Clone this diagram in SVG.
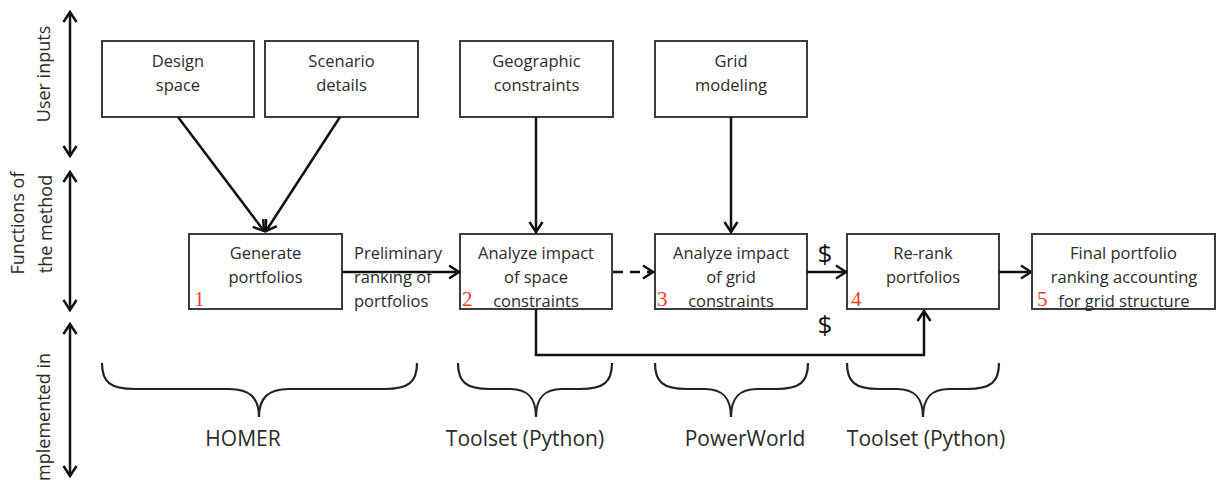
<svg xmlns="http://www.w3.org/2000/svg" width="1218" height="480" viewBox="0 0 1218 480">
<style>
.box{fill:#fff;stroke:#3c3c3c;stroke-width:2}
.t{font-family:"Open Sans",sans-serif;font-size:16.5px;font-weight:500;fill:#2b2b2b;text-anchor:middle}
.tl{font-family:"Open Sans",sans-serif;font-size:16.5px;font-weight:500;fill:#2b2b2b}
.ax{font-family:"Open Sans",sans-serif;font-size:18px;font-weight:500;fill:#2b2b2b;text-anchor:middle}
.big{font-family:"Open Sans",sans-serif;font-size:21px;font-weight:500;fill:#2b2b2b;text-anchor:middle}
.num{font-family:"Liberation Serif",serif;font-size:21px;fill:#f0401e}
.dol{font-family:"Open Sans",sans-serif;font-size:26px;fill:#111;text-anchor:middle}
.c{fill:none;stroke:#111;stroke-width:2.5}
.br{fill:none;stroke:#222;stroke-width:2.2}
</style>
<defs>
<marker id="ah" markerUnits="userSpaceOnUse" markerWidth="14" markerHeight="16" refX="12" refY="8" orient="auto-start-reverse">
<path d="M2,1.5 L12,8 L2,14.5" fill="none" stroke="#111" stroke-width="2.5"/>
</marker>
</defs>

<g id="axis">
<line class="c" x1="70" y1="12" x2="70" y2="156" marker-start="url(#ah)" marker-end="url(#ah)"/>
<line class="c" x1="70" y1="172" x2="70" y2="310" marker-start="url(#ah)" marker-end="url(#ah)"/>
<line class="c" x1="70" y1="324" x2="70" y2="476" marker-start="url(#ah)" marker-end="url(#ah)"/>
<text class="ax" transform="translate(50,74) rotate(-90)">User inputs</text>
<text class="ax" transform="translate(24,223) rotate(-90)">Functions of</text>
<text class="ax" transform="translate(52,224) rotate(-90)">the method</text>
<text class="ax" style="text-anchor:end" transform="translate(50,353) rotate(-90)">mplemented in</text>
</g>

<g id="design-space">
<rect class="box" x="102" y="41" width="152" height="76"/>
<text class="t" x="178" y="67">Design</text>
<text class="t" x="178" y="91">space</text>
</g>
<g id="scenario-details">
<rect class="box" x="265" y="41" width="153" height="76"/>
<text class="t" x="341.5" y="67">Scenario</text>
<text class="t" x="341.5" y="91">details</text>
</g>
<g id="geographic-constraints">
<rect class="box" x="460" y="41" width="153" height="76"/>
<text class="t" x="536.5" y="67">Geographic</text>
<text class="t" x="536.5" y="91">constraints</text>
</g>
<g id="grid-modeling">
<rect class="box" x="655" y="41" width="152" height="76"/>
<text class="t" x="731" y="67">Grid</text>
<text class="t" x="731" y="91">modeling</text>
</g>

<g id="generate-portfolios">
<rect class="box" x="189" y="234" width="153" height="75"/>
<text class="t" x="265.5" y="259">Generate</text>
<text class="t" x="265.5" y="283">portfolios</text>
<text class="num" x="194" y="306">1</text>
</g>
<g id="analyze-space">
<rect class="box" x="460" y="234" width="152" height="75"/>
<text class="t" x="536" y="259">Analyze impact</text>
<text class="t" x="536" y="283">of space</text>
<text class="t" x="536" y="307">constraints</text>
<text class="num" x="462" y="306">2</text>
</g>
<g id="analyze-grid">
<rect class="box" x="655" y="234" width="152" height="75"/>
<text class="t" x="731" y="259">Analyze impact</text>
<text class="t" x="731" y="283">of grid</text>
<text class="t" x="731" y="307">constraints</text>
<text class="num" x="657" y="306">3</text>
</g>
<g id="re-rank">
<rect class="box" x="847" y="234" width="152" height="75"/>
<text class="t" x="923" y="259">Re-rank</text>
<text class="t" x="923" y="283">portfolios</text>
<text class="num" x="851" y="306">4</text>
</g>
<g id="final-ranking">
<rect class="box" x="1032" y="234" width="183" height="75"/>
<text class="t" x="1123.5" y="259">Final portfolio</text>
<text class="t" x="1124" y="283">ranking accounting</text>
<text class="t" x="1124" y="307">for grid structure</text>
<text class="num" x="1037" y="306">5</text>
</g>

<g id="connectors">
<line class="c" x1="178" y1="117" x2="264" y2="231" marker-end="url(#ah)"/>
<line class="c" x1="340" y1="117" x2="266" y2="231" marker-end="url(#ah)"/>
<line class="c" x1="536" y1="117" x2="536" y2="232" marker-end="url(#ah)"/>
<line class="c" x1="731" y1="117" x2="731" y2="232" marker-end="url(#ah)"/>
<line class="c" x1="342" y1="272" x2="459" y2="272" marker-end="url(#ah)"/>
<line class="c" x1="613" y1="272" x2="653" y2="272" stroke-dasharray="10,7" marker-end="url(#ah)"/>
<line class="c" x1="807" y1="272" x2="846" y2="272" marker-end="url(#ah)"/>
<line class="c" x1="999" y1="272" x2="1031" y2="272" marker-end="url(#ah)"/>
<path class="c" d="M536,309 V355 H924 V311" marker-end="url(#ah)"/>
<text class="dol" x="825" y="263">$</text>
<text class="dol" x="825" y="334">$</text>
<text class="tl" x="354" y="259">Preliminary</text>
<text class="tl" x="354" y="283">ranking of</text>
<text class="tl" x="354" y="307">portfolios</text>
</g>

<g id="homer">
<path class="br" d="M102,363 C102,382 110,389 135,389 L229,389 C250,389 259,398 259,417 C259,398 268,389 289,389 L384,389 C409,389 417,382 417,363"/>
<text class="big" x="243" y="446">HOMER</text>
</g>
<g id="toolset-1">
<path class="br" d="M458,363 C458,382 466,389 490,389 L510,389 C528,389 536,398 536,417 C536,398 544,389 562,389 L580,389 C604,389 612,382 612,363"/>
<text class="big" x="525" y="446">Toolset (Python)</text>
</g>
<g id="powerworld">
<path class="br" d="M655,363 C655,382 663,389 687,389 L705,389 C723,389 731,398 731,417 C731,398 739,389 757,389 L776,389 C800,389 808,382 808,363"/>
<text class="big" x="745" y="446">PowerWorld</text>
</g>
<g id="toolset-2">
<path class="br" d="M847,363 C847,382 855,389 879,389 L897,389 C915,389 923,398 923,417 C923,398 931,389 949,389 L967,389 C991,389 999,382 999,363"/>
<text class="big" x="926" y="446">Toolset (Python)</text>
</g>
</svg>
